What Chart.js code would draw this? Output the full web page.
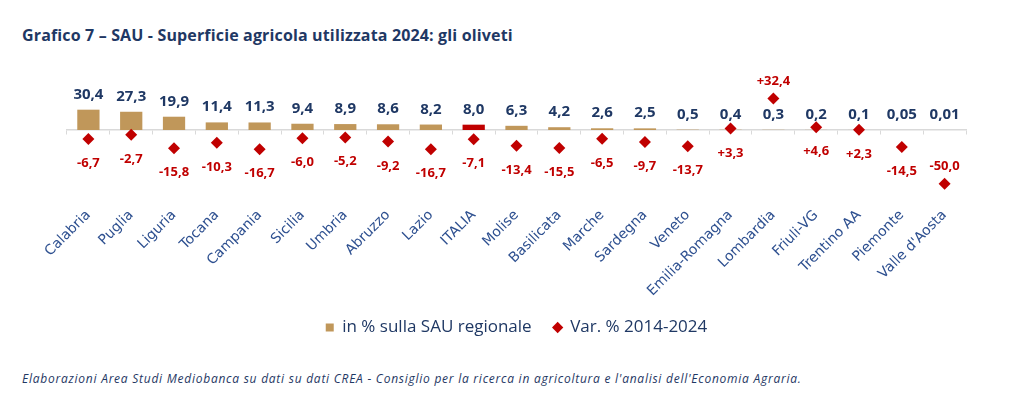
<!DOCTYPE html>
<html>
<head>
<meta charset="utf-8">
<script src="https://cdn.jsdelivr.net/npm/chart.js@4.4.1/dist/chart.umd.min.js"></script>
<style>
  html, body { margin:0; padding:0; background:#fff; width:1023px; height:400px; overflow:hidden; font-family:"Open Sans", sans-serif; }
  #title { position:absolute; left:22px; top:24px; font-weight:bold; font-size:16px; letter-spacing:0.15px; color:#1F3864; }
  #wrap { position:absolute; left:0; top:0; width:1023px; height:346px; }
  #note { position:absolute; left:22px; top:370px; font-style:italic; font-size:12px; letter-spacing:0.75px; color:#1F3864; }
</style>
</head>
<body>
<div id="title">Grafico 7 – SAU - Superficie agricola utilizzata 2024: gli oliveti</div>
<div id="wrap"><canvas id="chart"></canvas></div>
<div id="note">Elaborazioni Area Studi Mediobanca su dati su dati CREA - Consiglio per la ricerca in agricoltura e l'analisi dell'Economia Agraria.</div>
<script>
// data
const regions = ['Calabria','Puglia','Liguria','Tocana','Campania','Sicilia','Umbria','Abruzzo','Lazio','ITALIA',
  'Molise','Basilicata','Marche','Sardegna','Veneto','Emilia-Romagna','Lombardia','Friuli-VG','Trentino AA','Piemonte',"Valle d'Aosta"];
const shareSAU = [30.4,27.3,19.9,11.4,11.3,9.4,8.9,8.6,8.2,8.0,6.3,4.2,2.6,2.5,0.5,0.4,0.3,0.2,0.1,0.05,0.01];
const varPct = [-6.7,-2.7,-15.8,-10.3,-16.7,-6.0,-5.2,-9.2,-16.7,-7.1,-13.4,-15.5,-6.5,-9.7,-13.7,3.3,32.4,4.6,2.3,-14.5,-50.0];

const TAN = '#C0975A', RED = '#C00000', NAVY = '#1F3864', BLUE = '#2E5090';
const FONT = '"Open Sans", sans-serif';

const fmtShare = v => v.toFixed(v < 0.1 ? 2 : 1).replace('.', ',');
const fmtVar = v => (v > 0 ? '+' : '') + v.toFixed(1).replace('.', ',');

// labels above bars / around diamonds
const valueLabels = {
  id: 'valueLabels',
  afterDatasetsDraw(chart) {
    const ctx = chart.ctx;
    ctx.save();
    ctx.textAlign = 'center';
    ctx.textBaseline = 'alphabetic';
    ctx.font = 'bold 15px ' + FONT;
    ctx.fillStyle = NAVY;
    chart.getDatasetMeta(0).data.forEach((bar, i) => {
      ctx.fillText(fmtShare(shareSAU[i]), bar.x, bar.y - 11);
    });
    ctx.font = 'bold 13px ' + FONT;
    ctx.fillStyle = RED;
    chart.getDatasetMeta(1).data.forEach((pt, i) => {
      const v = varPct[i];
      const above = Math.abs(v) > 30; // extremes get the label on top
      ctx.fillText(fmtVar(v), pt.x, above ? pt.y - 14 : pt.y + 28);
    });
    ctx.restore();
  }
};

const noSidePad = s => { s.paddingLeft = 0; s.paddingRight = 0; };

new Chart(document.getElementById('chart'), {
  data: {
    labels: regions,
    datasets: [
      {
        type: 'bar',
        label: 'in % sulla SAU regionale',
        data: shareSAU,
        yAxisID: 'y',
        backgroundColor: regions.map(r => r === 'ITALIA' ? RED : TAN),
        categoryPercentage: 1,
        barPercentage: 0.52,
        pointStyle: 'rect',
        order: 2
      },
      {
        type: 'line',
        label: 'Var. % 2014-2024',
        data: varPct,
        yAxisID: 'y2',
        showLine: false,
        pointStyle: 'rectRot',
        pointRadius: 6,
        pointHoverRadius: 6,
        backgroundColor: RED,
        borderColor: RED,
        borderWidth: 0,
        order: 1
      }
    ]
  },
  options: {
    responsive: true,
    maintainAspectRatio: false,
    animation: false,
    layout: { padding: { top: 70, left: 67, right: 57, bottom: 0 } },
    plugins: {
      legend: {
        position: 'bottom',
        labels: {
          usePointStyle: true,
          boxWidth: 8,
          boxHeight: 8,
          padding: 22,
          color: NAVY,
          font: { family: FONT, size: 17 },
          sort: (a, b) => a.datasetIndex - b.datasetIndex
        }
      },
      tooltip: { enabled: false }
    },
    scales: {
      // axis line with tick marks, sitting on the zero of the bar scale
      x: {
        position: { y: 0 },
        grid: { drawOnChartArea: false, offset: true, tickLength: 4, color: '#D9D9D9' },
        border: { color: '#D9D9D9', width: 1.5 },
        ticks: { display: false },
        afterFit: noSidePad
      },
      // category names along the bottom
      xLabels: {
        type: 'category',
        position: 'bottom',
        offset: true,
        grid: { display: false, drawTicks: false },
        border: { display: false },
        ticks: { autoSkip: false, minRotation: 45, maxRotation: 45, padding: 14, color: BLUE, font: { family: '"DejaVu Sans", sans-serif', size: 14 } },
        afterFit(s) { noSidePad(s); s.height = 104; }
      },
      y: { display: false, min: -94.1, max: 89.7 },
      y2: { display: false, min: -59, max: 60 }
    }
  },
  plugins: [valueLabels]
});
</script>
</body>
</html>
